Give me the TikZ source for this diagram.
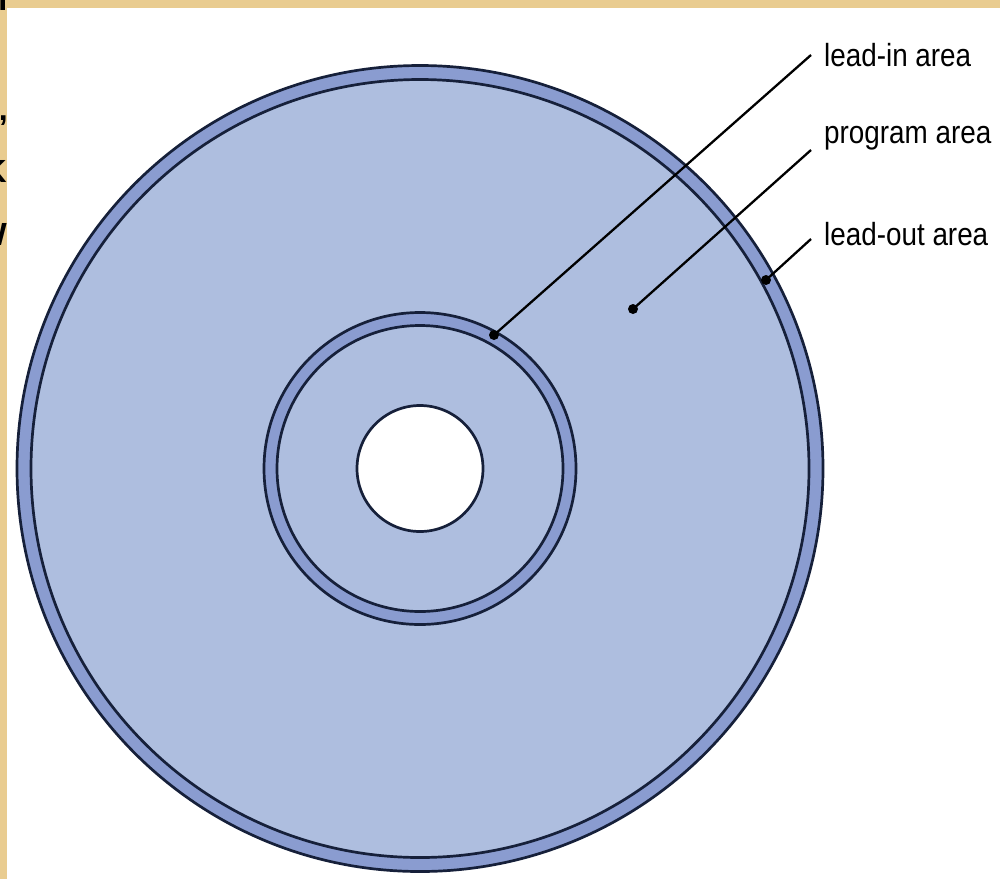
\documentclass[tikz,border=0pt]{standalone}
\usepackage{fontspec}
\setmainfont{Liberation Sans}
\newfontfamily\lbl[FakeStretch=0.87]{Liberation Sans}
\definecolor{tanbg}{HTML}{E9CC90}
\definecolor{progfill}{HTML}{AEBEDF}
\definecolor{ringfill}{HTML}{8A9CD0}
\definecolor{edgecol}{HTML}{16203A}
\tikzset{
  disc/.style={draw=edgecol, line width=2.7pt},
  leader/.style={draw=black, line width=2.3pt},
  dotmark/.style={fill=black},
  lbltext/.style={anchor=base west, inner sep=0pt, font=\lbl\fontsize{32}{38}\selectfont},
  frag/.style={inner sep=0pt, font=\bfseries\fontsize{32}{38}\selectfont}
}
\begin{document}
\begin{tikzpicture}[x=1pt,y=-1pt]
\fill[tanbg] (0,0) rectangle (1000,879);
\useasboundingbox (0,0) rectangle (1000,879);
% clipped text fragments of the underlying slide
\node[frag, anchor=base east] (f1) at (7.5,10) {I};
\node[frag, anchor=base east] (f2) at (8,120) {,};
\node[frag, anchor=base east] (f3) at (7,182) {K};
\node[frag, anchor=base east] (f4) at (7,245) {W};
\fill[white] (7,8) rectangle (1000,879);
% disc
\coordinate (c) at (420,468.5);
\filldraw[disc, fill=ringfill] (c) circle (403pt);
\filldraw[disc, fill=progfill] (c) circle (389pt);
\filldraw[disc, fill=ringfill] (c) circle (156pt);
\filldraw[disc, fill=progfill] (c) circle (143pt);
\filldraw[disc, fill=white] (c) circle (63pt);
% leaders
\coordinate (inDot) at (494,335);
\coordinate (progDot) at (633,309);
\coordinate (outDot) at (766,280);
\coordinate (inEnd) at (811,55);
\coordinate (progEnd) at (811,150);
\coordinate (outEnd) at (811,239);
\draw[leader] (inDot) -- (inEnd);
\draw[leader] (progDot) -- (progEnd);
\draw[leader] (outDot) -- (outEnd);
\fill[dotmark] (inDot) circle (5pt);
\fill[dotmark] (progDot) circle (5pt);
\fill[dotmark] (outDot) circle (5pt);
% labels
\node[lbltext] (inLbl) at (824,66) {lead-in area};
\node[lbltext] (progLbl) at (824,143) {program area};
\node[lbltext] (outLbl) at (824,245) {lead-out area};
\end{tikzpicture}
\end{document}
